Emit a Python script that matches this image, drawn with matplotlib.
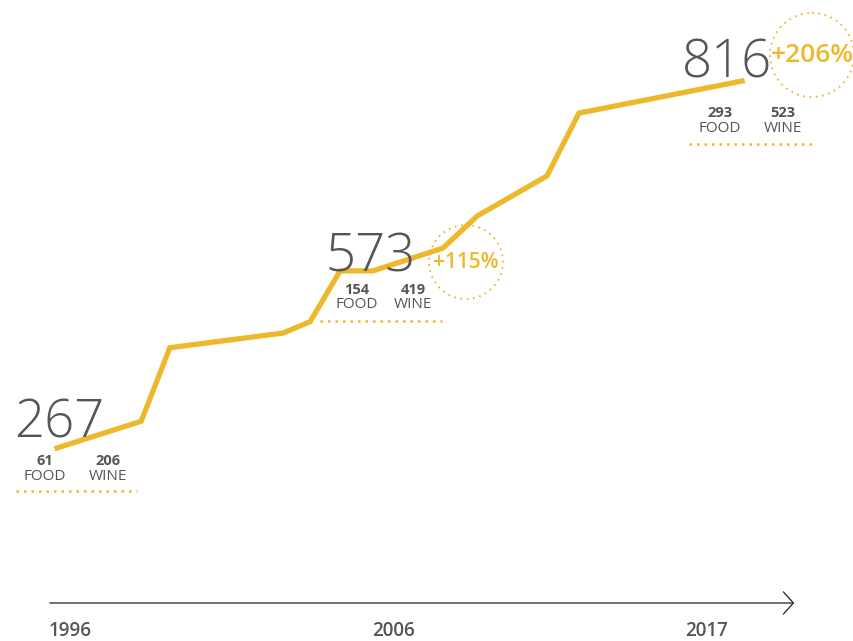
import numpy as np
import matplotlib.pyplot as plt
from matplotlib.patches import Circle

years = [1996.0, 1998.58, 1999.46, 2002.93, 2003.76, 2004.68, 2005.69,
         2007.83, 2008.88, 2011.02, 2012.0, 2017.0]
totals = [267, 307, 417, 439, 456, 532, 532, 566, 614, 674, 768, 816]

milestone_totals = ["267", "573", "816"]
milestone_food = ["61", "154", "293"]
milestone_wine = ["206", "419", "523"]
growth_labels = ["+115%", "+206%"]
year_labels = ["1996", "2006", "2017"]

yellow = "#EDB82B"
grey = "#555555"
plt.rcParams['font.family'] = ['Open Sans', 'DejaVu Sans']

fig = plt.figure(figsize=(8.54, 6.41), dpi=100)

# line axes, limits chosen so the line sits where it does in the picture
ax = fig.add_axes([0, 0, 1, 1])
ax.plot(years, totals, color=yellow, lw=3.8, solid_joinstyle='miter', zorder=3)
ax.set_xlim(1994.253, 2020.433)
ax.set_ylim(-21.7, 937.2)
ax.axis('off')

# overlay in pixel units for the labels and decorations
ov = fig.add_axes([0, 0, 1, 1], facecolor='none')
ov.set_xlim(0, 854)
ov.set_ylim(641, 0)
ov.axis('off')

# big totals, (x center, baseline)
big_pos = [(59, 437), (371, 271), (727, 77)]
sub_pos = [((45, 108), 461), ((357, 413), 290), ((720, 783), 113)]
dot_lines = [(16, 137, 491), (320, 442, 321), (689, 816, 144)]

for i in range(3):
    bx, by = big_pos[i]
    ov.text(bx, by, milestone_totals[i], color=grey, fontsize=38,
            fontweight='light', ha='center', va='baseline', zorder=2)
    (fx, wx), sy = sub_pos[i]
    ov.text(fx, sy, milestone_food[i], color=grey, fontsize=10.5,
            fontweight='bold', ha='center', va='center')
    ov.text(wx, sy, milestone_wine[i], color=grey, fontsize=10.5,
            fontweight='bold', ha='center', va='center')
    ov.text(fx, sy + 15, "FOOD", color=grey, fontsize=11,
            ha='center', va='center')
    ov.text(wx, sy + 15, "WINE", color=grey, fontsize=11,
            ha='center', va='center')
    x0, x1, ly = dot_lines[i]
    ov.plot([x0, x1], [ly, ly], color=yellow, lw=1.8, ls=(0, (1, 2)))

# growth circles
circ = [(466, 262, 37, 15), (812, 55, 42, 19)]
for (cx, cy, r, fs), lab in zip(circ, growth_labels):
    ov.add_patch(Circle((cx, cy), r, fill=False, ec=yellow, lw=1.3,
                        ls=(0, (1, 2.5)), zorder=4))
    ov.text(cx, cy, lab, color=yellow, fontsize=fs, fontweight='semibold',
            ha='center', va='center', zorder=5)

# time axis arrow
ov.annotate("", xy=(797, 603), xytext=(47, 603),
            arrowprops=dict(arrowstyle='->,head_length=0.45,head_width=0.5',
                            color='#222222', lw=0.9, mutation_scale=16))
for xl, lab in zip([70, 394, 707], year_labels):
    ov.text(xl, 631, lab, color=grey, fontsize=13.5, fontweight='semibold',
            ha='center', va='center')

fig.savefig("out.png", dpi=100)
